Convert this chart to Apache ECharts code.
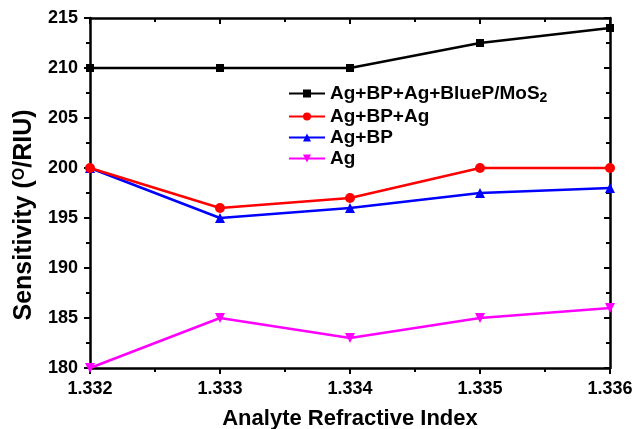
<!DOCTYPE html>
<html><head><meta charset="utf-8">
<script src="https://cdn.jsdelivr.net/npm/echarts@6/dist/echarts.min.js"></script>
<style>html,body{margin:0;padding:0;background:#fff}#c{width:639px;height:429px}</style>
</head><body><div id="c"></div>
<script>
const xValues = [1.332, 1.333, 1.334, 1.335, 1.336];
const seriesNames = ['Ag+BP+Ag+BlueP/MoS2', 'Ag+BP+Ag', 'Ag+BP', 'Ag'];
const blackValues = [210, 210, 210, 212.5, 214];
const redValues = [200, 196, 197, 200, 200];
const blueValues = [200, 195, 196, 197.5, 198];
const magentaValues = [180, 185, 183, 185, 186];
const colors = ['#000000', '#ff0000', '#0000ff', '#ff00ff'];
const symbols = ['rect', 'circle', 'triangle', 'path://M0,0 L10,0 L5,9 Z'];

const chart = echarts.init(document.getElementById('c'));
const F = 'Arial, "Liberation Sans", sans-serif';
const allValues = [blackValues, redValues, blueValues, magentaValues];

chart.setOption({
  animation: false,
  grid: { left: 90, right: 29, top: 18, bottom: 61, outerBoundsMode: 'none', containLabel: false },
  legend: {
    orient: 'vertical', left: 283, top: 79, itemGap: 2,
    itemWidth: 36, itemHeight: 10,
    textStyle: { fontFamily: F, fontWeight: 'bold', fontSize: 19, color: '#000',
      rich: { sub: { fontFamily: F, fontWeight: 'bold', fontSize: 14, verticalAlign: 'bottom', padding: [9, 0, 0, 0] } } },
    formatter: n => n === 'Ag+BP+Ag+BlueP/MoS2' ? 'Ag+BP+Ag+BlueP/MoS{sub|2}' : n,
    data: seriesNames
  },
  xAxis: [{
    type: 'value', min: 1.332, max: 1.336, interval: 0.001,
    name: 'Analyte Refractive Index', nameLocation: 'middle', nameGap: 40,
    nameTextStyle: { fontFamily: F, fontWeight: 'bold', fontSize: 22, color: '#000' },
    axisLine: { show: true, lineStyle: { color: '#000', width: 2.5 } },
    axisTick: { show: true, inside: false, length: 6, lineStyle: { width: 2 } },
    minorTick: { show: true, splitNumber: 2, length: 4, lineStyle: { color: '#000', width: 2 } },
    axisLabel: { fontFamily: F, fontWeight: 'bold', fontSize: 18, color: '#000', margin: 12,
      formatter: v => v.toFixed(3) },
    splitLine: { show: false }
  }, {
    type: 'value', min: 1.332, max: 1.336, interval: 0.001, position: 'top',
    axisLine: { show: true, lineStyle: { color: '#000', width: 2.5 } },
    axisTick: { show: true, inside: true, length: 6, lineStyle: { width: 2 } },
    minorTick: { show: true, splitNumber: 2, length: 4, lineStyle: { color: '#000', width: 2 } },
    axisLabel: { show: false }, splitLine: { show: false }
  }],
  yAxis: [{
    type: 'value', min: 180, max: 215, interval: 5,
    name: 'Sensitivity ({sup|O}/RIU)', nameLocation: 'middle', nameGap: 50, nameRotate: 90,
    nameTextStyle: { fontFamily: F, fontWeight: 'bold', fontSize: 25, color: '#000', padding: [0, 44, 0, 0],
      rich: { sup: { fontFamily: F, fontWeight: 'bold', fontSize: 16, verticalAlign: 'top', padding: [0, 0, 10, 0] } } },
    axisLine: { show: true, lineStyle: { color: '#000', width: 2.5 } },
    axisTick: { show: true, inside: false, length: 6, lineStyle: { width: 2 } },
    minorTick: { show: true, splitNumber: 2, length: 4, lineStyle: { color: '#000', width: 2 } },
    axisLabel: { fontFamily: F, fontWeight: 'bold', fontSize: 18, color: '#000', margin: 12 },
    splitLine: { show: false }
  }, {
    type: 'value', min: 180, max: 215, interval: 5, position: 'right',
    axisLine: { show: true, lineStyle: { color: '#000', width: 2.5 } },
    axisTick: { show: true, inside: true, length: 6, lineStyle: { width: 2 } },
    minorTick: { show: true, splitNumber: 2, length: 4, lineStyle: { color: '#000', width: 2 } },
    axisLabel: { show: false }, splitLine: { show: false }
  }],
  series: seriesNames.map((n, i) => ({
    name: n, type: 'line',
    data: xValues.map((x, j) => [x, allValues[i][j]]),
    symbol: symbols[i], symbolSize: i === 0 ? 8 : 10,
    itemStyle: { color: colors[i] },
    lineStyle: { color: colors[i], width: 2.5 },
    z: 10 - i
  }))
});
</script></body></html>
